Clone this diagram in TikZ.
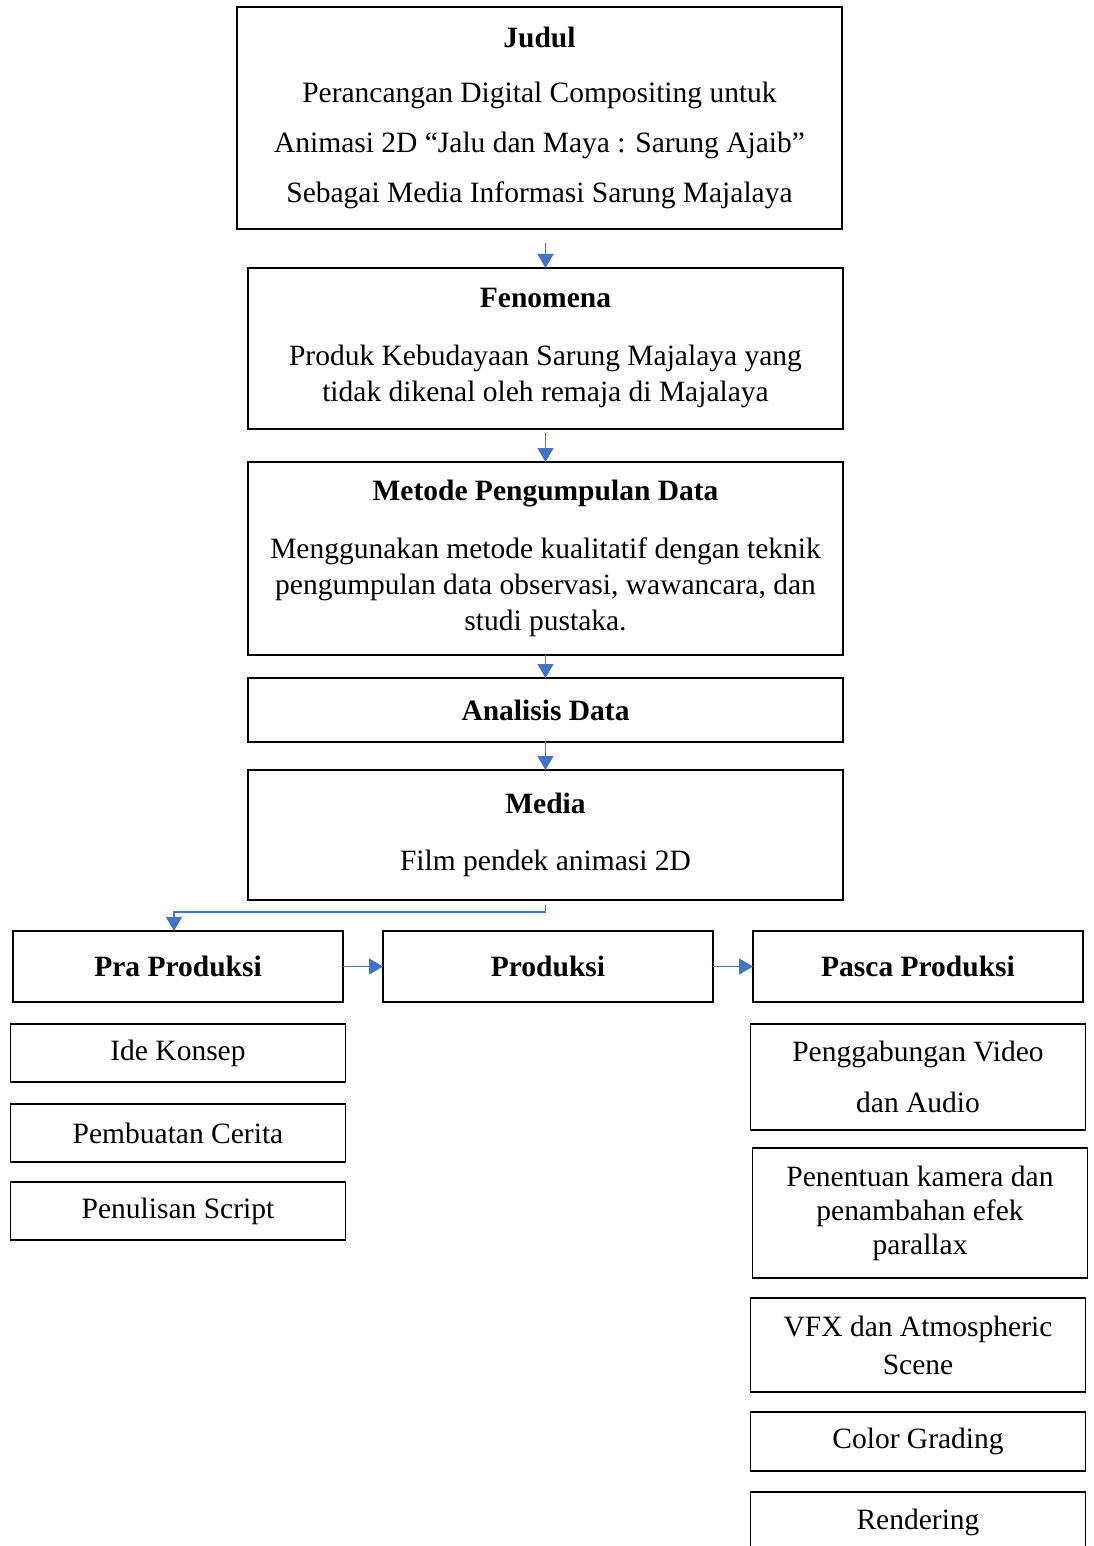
\documentclass[tikz,border=0pt]{standalone}
\usepackage{fontspec}
\setmainfont{Liberation Serif}
\usepackage{xcolor}
\usetikzlibrary{arrows.meta,positioning}
\definecolor{linkblue}{HTML}{4472C4}

\begin{document}
\begin{tikzpicture}[
    x=1pt, y=-1pt,
    box/.style={rectangle, draw, line width=1.4pt, outer sep=0pt, align=center, inner sep=0pt, font={\fontsize{29.5}{36}\selectfont}},
    mainbox/.style={box, minimum width=595pt},
    stage/.style={box, minimum width=330pt, minimum height=71pt},
    item/.style={box, minimum width=335pt},
    arrow/.style={-{Triangle[width=16pt,length=14pt]}, draw=linkblue, line width=1.3pt}
]
\useasboundingbox (0,0) rectangle (1093,1546);

% Alur utama
\node[box, minimum width=605pt, minimum height=222pt] (judul) at (539.5,118) {\textbf{Judul}\\[19pt]Perancangan Digital Compositing untuk\\[14pt]Animasi 2D “Jalu dan Maya : Sarung Ajaib”\\[14pt]Sebagai Media Informasi Sarung Majalaya};
\node[mainbox, minimum height=161pt, below=39pt of judul, xshift=6pt] (fenomena) {\textbf{Fenomena}\\[22pt]Produk Kebudayaan Sarung Majalaya yang\\tidak dikenal oleh remaja di Majalaya};
\node[mainbox, minimum height=193pt, below=33pt of fenomena] (metode) {\textbf{Metode Pengumpulan Data}\\[22pt]Menggunakan metode kualitatif dengan teknik\\pengumpulan data observasi, wawancara, dan\\studi pustaka.};
\node[mainbox, minimum height=64pt, below=23pt of metode] (analisis) {\textbf{Analisis Data}};
\node[mainbox, minimum height=130pt, below=28pt of analisis] (media) {\textbf{Media}\\[21pt]Film pendek animasi 2D};

% Tahapan
\node[stage, below=31pt of media, xshift=2.5pt] (produksi) {\textbf{Produksi}};
\node[stage, left=40pt of produksi] (pra) {\textbf{Pra Produksi}};
\node[stage, right=40pt of produksi] (pasca) {\textbf{Pasca Produksi}};

% Pra produksi
\node[item, minimum height=58pt, below=22pt of pra] (ide) {Ide Konsep};
\node[item, minimum height=58pt, below=22pt of ide] (cerita) {Pembuatan Cerita};
\node[item, minimum height=58pt, below=20pt of cerita] (script) {Penulisan Script};

% Pasca produksi
\node[item, minimum height=106pt, below=22pt of pasca] (gabung) {Penggabungan Video\\[15pt]dan Audio};
\node[item, minimum height=130pt, below=18pt of gabung, xshift=2pt] (kamera) {Penentuan kamera dan\\[-2pt]penambahan efek\\[-2pt]parallax};
\node[item, minimum height=94pt, below=20pt of kamera, xshift=-2pt] (vfx) {VFX dan Atmospheric\\[2pt]Scene};
\node[item, minimum height=59pt, below=20pt of vfx] (grading) {Color Grading};
\node[item, minimum height=60pt, below=21pt of grading] (render) {Rendering};

% Panah
\draw[arrow] ([yshift=25pt]fenomena.north) -- (fenomena.north);
\draw[arrow] ([yshift=-4pt]fenomena.south) -- (metode.north);
\draw[arrow] (metode.south) -- (analisis.north);
\draw[arrow] (analisis.south) -- (media.north);
\draw[arrow] ([yshift=-5pt]media.south) -- ++(0,7) -| ([xshift=-4pt]pra.north);
\draw[arrow] (pra.east) -- (produksi.west);
\draw[arrow] (produksi.east) -- (pasca.west);

\end{tikzpicture}
\end{document}
